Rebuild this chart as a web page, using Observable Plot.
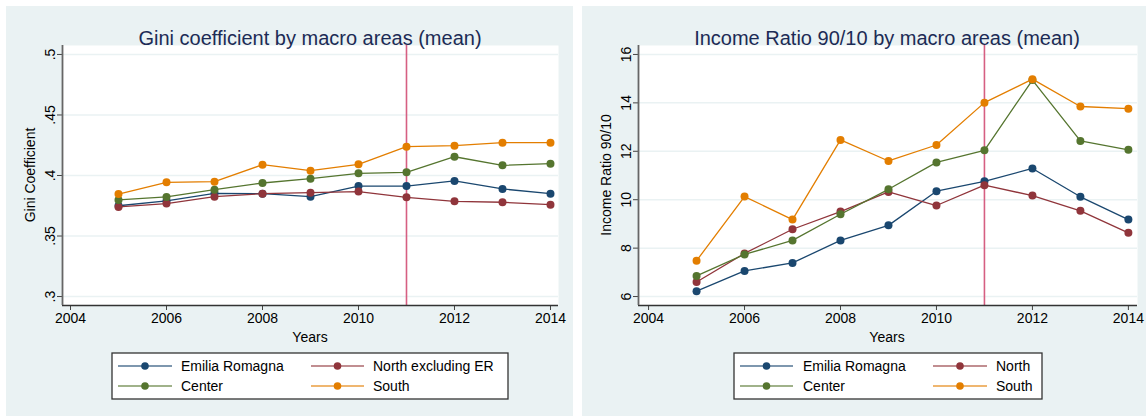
<!DOCTYPE html>
<html><head><meta charset="utf-8">
<script src="https://cdn.jsdelivr.net/npm/d3@7"></script>
<script src="https://cdn.jsdelivr.net/npm/@observablehq/plot@0.6"></script>
<style>
body{margin:0;background:#fff;font-family:"Liberation Sans",Arial,sans-serif;}
#root{position:relative;width:1146px;height:416px;overflow:hidden;background:#fff;}
.panel{position:absolute;top:6px;height:410px;background:#eaf2f3;}
.panel svg{position:absolute;left:0;top:0;}
.title{position:absolute;top:32px;font-size:20px;color:#1c2b55;white-space:nowrap;transform:translate(-50%,-50%);}
.xlab{position:absolute;top:331px;font-size:14px;color:#000;white-space:nowrap;transform:translate(-50%,-50%);}
.ylab{position:absolute;top:169px;left:24px;font-size:14px;color:#000;white-space:nowrap;transform:translate(-50%,-50%) rotate(-90deg);}
</style>
</head><body>
<div id="root">
  <div class="panel" id="pL" style="left:6px;width:567px;">
    <div class="title" style="left:304px;">Gini coefficient by macro areas (mean)</div>
    <div class="ylab">Gini Coefficient</div>
    <div class="xlab" style="left:304px;">Years</div>
  </div>
  <div class="panel" id="pR" style="left:582px;width:564px;">
    <div class="title" style="left:305px;">Income Ratio 90/10 by macro areas (mean)</div>
    <div class="ylab">Income Ratio 90/10</div>
    <div class="xlab" style="left:305px;">Years</div>
  </div>
</div>
<script>
// ---- data ----
const years = [2005, 2006, 2007, 2008, 2009, 2010, 2011, 2012, 2013, 2014];
const yearTicks = [2004, 2006, 2008, 2010, 2012, 2014];
const breakYear = 2011;

const giniNames = ["Emilia Romagna", "North excluding ER", "Center", "South"];
const giniER     = [0.375, 0.379, 0.3853, 0.385, 0.3825, 0.3913, 0.3913, 0.3955, 0.3889, 0.385];
const giniNorth  = [0.374, 0.3768, 0.3825, 0.385, 0.3858, 0.3867, 0.382, 0.3787, 0.3779, 0.3759];
const giniCenter = [0.3798, 0.3823, 0.3883, 0.3938, 0.3974, 0.4018, 0.4026, 0.4155, 0.4084, 0.4098];
const giniSouth  = [0.3847, 0.3944, 0.3949, 0.4089, 0.404, 0.4092, 0.4238, 0.4246, 0.4271, 0.4271];
const giniTicks = [0.3, 0.35, 0.4, 0.45, 0.5];
const giniTickLabels = [".3", ".35", ".4", ".45", ".5"];

const ratioNames = ["Emilia Romagna", "North", "Center", "South"];
const ratioER     = [6.22, 7.06, 7.39, 8.32, 8.94, 10.35, 10.76, 11.29, 10.12, 9.18];
const ratioNorth  = [6.60, 7.78, 8.78, 9.51, 10.32, 9.76, 10.60, 10.17, 9.54, 8.63];
const ratioCenter = [6.85, 7.74, 8.32, 9.40, 10.43, 11.54, 12.04, 14.94, 12.43, 12.06];
const ratioSouth  = [7.48, 10.13, 9.18, 12.47, 11.60, 12.26, 14.01, 14.98, 13.85, 13.76];
const ratioTicks = [6, 8, 10, 12, 14, 16];
const ratioTickLabels = ["6", "8", "10", "12", "14", "16"];

const colors = ["#1a476f", "#90353b", "#55752f", "#e37e00"];

// ---- helpers ----
function toRows(names, arrays) {
  return names.flatMap((n, s) => years.map((yr, i) => ({series: n, year: yr, value: arrays[s][i]})));
}

function chart({width, marginRight, names, arrays, xDomain, yDomain, ticks, tickLabels}) {
  const rows = toRows(names, arrays);
  const seriesMarks = names.flatMap(n => {
    const d = rows.filter(r => r.series === n);
    return [
      Plot.line(d, {x: "year", y: "value", stroke: "series", strokeWidth: 1.3}),
      Plot.dot(d, {x: "year", y: "value", fill: "series", r: 4})
    ];
  });
  return Plot.plot({
    width, height: 340,
    marginLeft: 56, marginRight, marginTop: 39, marginBottom: 41,
    style: {background: "transparent", fontFamily: "Liberation Sans, Arial, sans-serif", fontSize: "14px", color: "#000", overflow: "visible"},
    x: {domain: xDomain},
    y: {domain: yDomain},
    color: {domain: names, range: colors},
    marks: [
      Plot.frame({fill: "white", stroke: null}),
      Plot.gridY(ticks, {stroke: "#eaf2f3", strokeOpacity: 1, strokeWidth: 1.5}),
      Plot.ruleX([breakYear], {stroke: "#d65f82", strokeWidth: 1.6}),
      ...seriesMarks,
      Plot.axisX({ticks: yearTicks, tickFormat: d => String(d), tickSize: 5, tickPadding: 3, label: null, stroke: "#444"}),
      Plot.axisY({ticks, tickFormat: (d, i) => tickLabels[ticks.indexOf(d)], tickSize: 5, tickPadding: 3, tickRotate: -90, label: null, stroke: "#444"}),
      Plot.ruleY([yDomain[0]], {stroke: "#333", strokeWidth: 1.5}),
      Plot.ruleX([xDomain[0]], {stroke: "#666", strokeWidth: 1.8})
    ]
  });
}

function legend(panel, names, box, cols) {
  const svg = d3.select(panel).append("svg")
    .attr("width", panel.clientWidth || 567).attr("height", 410)
    .style("position", "absolute").style("left", "0px").style("top", "0px")
    .style("font-family", "Liberation Sans, Arial, sans-serif");
  svg.append("rect").attr("x", box.x).attr("y", box.y).attr("width", box.w).attr("height", box.h)
    .attr("fill", "white").attr("stroke", "#333").attr("stroke-width", 1.3);
  const rowsY = [360, 380];
  names.forEach((n, i) => {
    const c = cols[i % 2], y = rowsY[Math.floor(i / 2)];
    svg.append("line").attr("x1", c.x1).attr("x2", c.x2).attr("y1", y).attr("y2", y)
      .attr("stroke", colors[i]).attr("stroke-width", 1.6).attr("stroke-opacity", 0.75);
    svg.append("circle").attr("cx", (c.x1 + c.x2) / 2).attr("cy", y).attr("r", 3.8).attr("fill", colors[i]);
    svg.append("text").attr("x", c.tx).attr("y", y).attr("dy", "0.35em").attr("font-size", 14).attr("fill", "#000").text(n);
  });
}

const pL = document.getElementById("pL");
const pR = document.getElementById("pR");

pL.appendChild(chart({
  width: 567, marginRight: 15, names: giniNames,
  arrays: [giniER, giniNorth, giniCenter, giniSouth],
  xDomain: [2003.833, 2014.167], yDomain: [0.2926, 0.5074],
  ticks: giniTicks, tickLabels: giniTickLabels
}));
pR.appendChild(chart({
  width: 564, marginRight: 9, names: ratioNames,
  arrays: [ratioER, ratioNorth, ratioCenter, ratioSouth],
  xDomain: [2003.79, 2014.19], yDomain: [5.63, 16.37],
  ticks: ratioTicks, tickLabels: ratioTickLabels
}));

legend(pL, giniNames, {x: 106, y: 347, w: 396, h: 46},
  [{x1: 112, x2: 166, tx: 175}, {x1: 305, x2: 358, tx: 367}]);
legend(pR, ratioNames, {x: 152, y: 347, w: 308, h: 46},
  [{x1: 158, x2: 211, tx: 221}, {x1: 351, x2: 405, tx: 414}]);

// keep titles/labels above svgs
document.querySelectorAll(".title,.xlab,.ylab").forEach(e => { e.style.zIndex = 2; });
</script>
</body></html>
